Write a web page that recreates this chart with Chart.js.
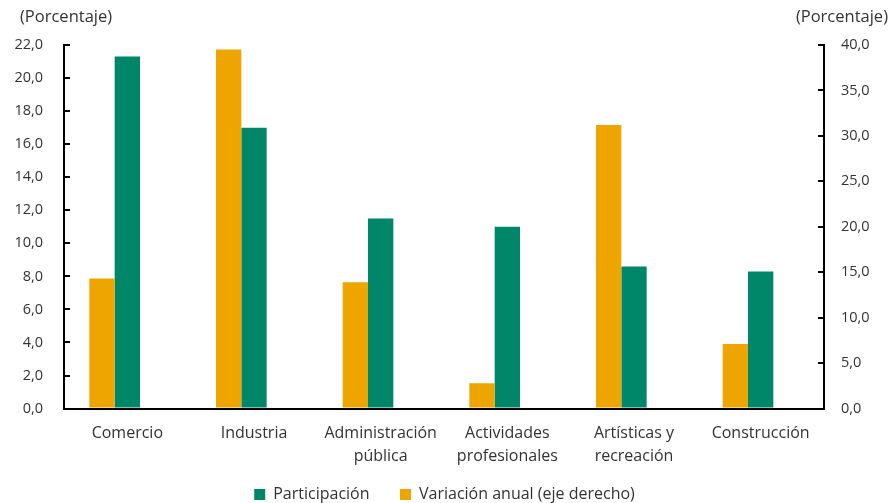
<!DOCTYPE html>
<html>
<head>
<meta charset="utf-8">
<script src="https://cdn.jsdelivr.net/npm/chart.js@4/dist/chart.umd.min.js"></script>
<style>
  html, body { margin: 0; padding: 0; background: #fff; }
  #wrap { width: 889px; height: 503px; }
</style>
</head>
<body>
<div id="wrap"><canvas id="sectorChart" width="889" height="503"></canvas></div>
<script>
// sectores
var categories = ['Comercio', 'Industria', ['Administración', 'pública'], ['Actividades', 'profesionales'], ['Artísticas y', 'recreación'], 'Construcción'];
// participación (eje izquierdo)
var participacion = [21.3, 17.0, 11.5, 11.0, 8.6, 8.3];
// variación anual (eje derecho)
var variacion = [14.3, 39.5, 13.9, 2.8, 31.2, 7.1];
var leftTicks = [0, 22, 2];
var rightTicks = [0, 40, 5];

var green = '#00876A';
var orange = '#EFA500';
var textColor = '#333333';
var family = "'Open Sans', 'Noto Sans', sans-serif";
var tickFont = { family: family, size: 14.5 };
var labelFont = { family: family, size: 16, lineHeight: 1.45 };
var legendFont = { family: family, size: 16 };

function fmt(v) { return v.toFixed(1).replace('.', ','); }

// titulos "(Porcentaje)" arriba de cada eje
var axisTitles = {
    id: 'axisTitles',
    afterDraw: function (chart) {
        var ctx = chart.ctx;
        ctx.save();
        ctx.font = '16.5px ' + family;
        ctx.fillStyle = textColor;
        ctx.textBaseline = 'middle';
        ctx.textAlign = 'left';
        ctx.fillText('(Porcentaje)', 20, 17);
        ctx.textAlign = 'right';
        ctx.fillText('(Porcentaje)', 888, 17);
        ctx.restore();
    }
};

var chartOne = document.getElementById('sectorChart').getContext('2d');
var myChart = new Chart(chartOne, {
    type: 'bar',
    data: {
        labels: categories,
        datasets: [{
            label: 'Variación anual (eje derecho)',
            data: variacion,
            backgroundColor: orange,
            yAxisID: 'y1'
        }, {
            label: 'Participación',
            data: participacion,
            backgroundColor: green,
            yAxisID: 'y'
        }, {
            // hueco vacio para que el par quede corrido como en el original
            label: '',
            data: categories.map(function () { return null; }),
            backgroundColor: 'rgba(0,0,0,0)',
            yAxisID: 'y'
        }]
    },
    options: {
        responsive: false,
        animation: false,
        layout: { padding: { top: 45, left: 0, right: 0, bottom: -9.6 } },
        datasets: { bar: { categoryPercentage: 0.6, barPercentage: 1.0 } },
        plugins: {
            tooltip: { enabled: false },
            legend: {
                position: 'bottom',
                reverse: true,
                labels: {
                    generateLabels: function (chart) {
                        var items = Chart.defaults.plugins.legend.labels.generateLabels(chart);
                        items.forEach(function (it) {
                            if (it.datasetIndex === 1) it.text = it.text + '\u00a0\u00a0\u00a0';
                        });
                        return items;
                    },
                    filter: function (item) { return item.text !== ''; },
                    boxWidth: 11,
                    boxHeight: 11,
                    padding: 18,
                    color: textColor,
                    font: legendFont
                }
            }
        },
        scales: {
            x: {
                grid: { display: false, drawTicks: false },
                border: { color: '#000', width: 2 },
                ticks: { color: textColor, font: labelFont, padding: 13, maxRotation: 0, autoSkip: false },
                afterFit: function (s) { s.height = 60; }
            },
            y: {
                position: 'left',
                min: leftTicks[0],
                max: leftTicks[1],
                ticks: { stepSize: leftTicks[2], color: textColor, font: tickFont, padding: 27, callback: function (v) { return fmt(v); } },
                grid: { drawOnChartArea: false, drawTicks: true, tickLength: -6, color: '#000', lineWidth: 2 },
                border: { color: '#000', width: 2 },
                afterFit: function (s) { s.width = 64; }
            },
            y1: {
                position: 'right',
                min: rightTicks[0],
                max: rightTicks[1],
                ticks: { stepSize: rightTicks[2], color: textColor, font: tickFont, padding: 23, callback: function (v) { return fmt(v); } },
                grid: { drawOnChartArea: false, drawTicks: true, tickLength: -6, color: '#000', lineWidth: 2 },
                border: { color: '#000', width: 2 },
                afterFit: function (s) { s.width = 65; }
            }
        }
    },
    plugins: [axisTitles]
});
</script>
</body>
</html>
